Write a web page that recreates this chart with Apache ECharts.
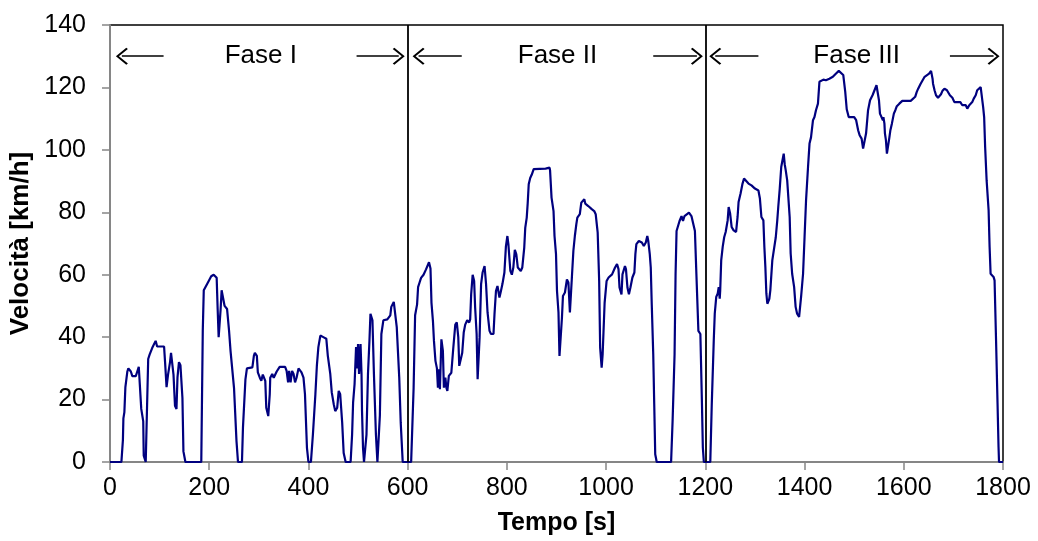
<!DOCTYPE html>
<html lang="it">
<head>
    <meta charset="UTF-8">
    <title>Velocità</title>
    <script src="https://cdn.jsdelivr.net/npm/echarts@6/dist/echarts.min.js"></script>
    <style>
        html, body { margin: 0; padding: 0; background: #fff; }
        #chart { width: 1038px; height: 541px; }
    </style>
</head>
<body>
<div id="chart"></div>
<script type="text/javascript">
    // dati: [tempo s, velocità km/h]
    var fase1 = [[0,0],[23,0],[26,7],[27,14],[29,16],[31,24],[35,29],[37,30],[42,29],[45,27.5],[52,27.5],[55,29],[58,30.5],[61,30],[63,17],[67,13],[68,2],[72,0],[75,0],[77,33],[80,34.5],[85,36.5],[92,38.8],[95,37],[102,37],[109,37],[111,32],[114,24],[117,28],[121,32],[123,35],[127,35],[128,28],[131,18],[134,17],[136,27],[139,32],[142,31],[146,20.5],[148,3.4],[152,0],[184,0],[187,42],[189,55],[193,55.5],[199,58],[204,59.5],[209,60],[215,59],[217,49],[219,40],[223,49],[225,55],[227,55.5],[231,50],[236,49],[240,42],[243,35.5],[250,23.7],[255,6.6],[258,0],[266,0],[268,11],[273,26.5],[276,30],[287,30.3],[290,34],[292,35],[296,34],[298,28.7],[302,27],[305,26],[308,28],[311,28],[313,26],[315,17.4],[319,14.7],[322,21.7],[323,27],[327,28.2],[330,27],[336,29],[342,30.5],[353,30.5],[356,29.2],[359,25.5],[361,29.2],[364,25.5],[367,29.2],[370,28.2],[373,25.5],[376,27],[380,30],[383,30.5],[386,28.7],[390,27],[393,21.7],[397,4.5],[400,0],[405,0],[409,8.8],[414,21.7],[417,30.9],[420,36.8],[424,40.5],[427,41],[430,40],[436,39.5],[439,34.1],[444,28.2],[447,22.3],[451,18.5],[454,16.3],[458,17.4],[461,22.8],[464,21.7],[468,12.6],[471,2.9],[475,0],[485,0],[488,8.8],[490,19],[493,25],[496,36.8],[498,30],[500,37.8],[502,28.2],[505,37.8],[507,28.2],[508,16.3],[510,4.5],[512,0],[515,0],[517,8.8],[520,28.2],[523,39],[525,47.5],[529,45.4],[532,28.2],[536,8.8],[539,0],[542,0],[544,15],[547,41],[551,45.4],[559,45.7],[565,47],[567,49.7],[572,51.3],[576,50.8],[578,43.2],[583,27.1],[586,12.6],[590,0],[607,0]];

    var fase2 = [[610,0],[612,23.8],[615,47],[619,50.5],[621,56],[624,57.5],[627,59],[632,60],[637,61.7],[643,64],[646,62],[648,51],[651,45],[653,38.8],[656,32.4],[659,30],[661,23.8],[663,29.7],[665,23.3],[668,39.3],[671,35.6],[673,23.8],[676,27],[678,23.8],[680,22.8],[683,27.6],[688,28.6],[691,29],[692,36.6],[696,44],[699,44.7],[702,40],[704,30.8],[708,30.5],[710,35],[713,41.5],[716,44],[720,45.4],[724,44.7],[726,45.7],[728,53.7],[731,60],[734,58],[736,49.5],[739,41],[741,26.5],[743,26.5],[745,40],[748,57],[751,60.7],[755,62.8],[757,62.8],[758,57],[761,47.9],[765,42],[768,41],[773,41],[775,47.3],[778,54.8],[781,56.4],[785,52.7],[788,54.8],[791,57],[795,60.7],[798,69],[801,72.4],[803,69.8],[807,61.2],[810,60],[813,62.3],[816,68],[819,66.5],[822,62.3],[825,62.3],[828,61.2],[831,62.3],[835,68.7],[837,75],[840,78.3],[842,83],[844,89],[847,91],[850,92],[854,93.8],[858,94],[878,94],[886,94.3],[887,93.5],[890,84.7],[894,80.4],[896,72.4],[899,66.6],[901,54.8],[904,47.9],[906,34],[909,34],[911,46.3],[913,53.2],[917,54.3],[921,58.5],[924,57.5],[927,47.9],[930,47.3],[931,59.1],[934,67.6],[937,72.4],[940,76.2],[942,78.3],[947,79.4],[950,83.1],[956,84.2],[958,82.8],[964,82],[971,81],[976,80.4],[979,79.4],[983,73.5],[986,58],[988,36.6],[991,30.2],[993,34.5],[997,51],[1001,58],[1005,59.1],[1008,59.6],[1012,60.1],[1018,62.3],[1022,63.4],[1025,61.8],[1027,55.9],[1031,53.7],[1033,60.1],[1038,62.8],[1040,61.8],[1043,55.9],[1046,53.7],[1049,55.9],[1053,59.1],[1057,60.7],[1059,66.6],[1061,69.8],[1066,70.8],[1072,70.3],[1076,69.2],[1080,70.3],[1083,72.4],[1085,70.8],[1088,66.6],[1090,62.3],[1092,50.5],[1095,34.5],[1097,18.5],[1099,2.5],[1102,0],[1131,0],[1134,13.1],[1138,34.5],[1140,60.1],[1142,74],[1145,74.6],[1148,77.2],[1152,78.8],[1155,77.2],[1158,78.8],[1162,79.4],[1167,79.9],[1172,78.8],[1175,78.3],[1179,74],[1182,60.1],[1186,42],[1190,41],[1193,20],[1195,4.6],[1197,0]];

    var fase3 = [[1210,0],[1213,18.7],[1217,39],[1219,47.5],[1222,52.9],[1225,54],[1227,56],[1229,52.3],[1230,55],[1232,64.6],[1235,68.9],[1238,72],[1241,73.7],[1245,77.4],[1247,81.7],[1250,79.6],[1253,75.3],[1257,74.2],[1262,73.7],[1265,78.5],[1267,83.3],[1271,86],[1275,89.2],[1278,90.8],[1282,90.2],[1287,89.2],[1293,88.6],[1300,87.6],[1307,87],[1310,84.4],[1313,78.5],[1317,77.4],[1319,68.9],[1321,62.5],[1323,54],[1325,50.7],[1329,52.3],[1331,55],[1335,64.6],[1338,67.8],[1342,72],[1345,77.4],[1347,81.7],[1350,87.6],[1353,94.5],[1355,94.5],[1358,98.8],[1360,95.4],[1362,93.5],[1365,90.2],[1367,90.2],[1370,78.5],[1372,66.8],[1375,60.3],[1379,56],[1382,49.7],[1385,47.5],[1389,46.5],[1391,46.5],[1393,52.9],[1397,60.3],[1400,72],[1403,83.8],[1407,94.5],[1410,102],[1413,104],[1417,109.5],[1420,110.5],[1423,112.7],[1427,114.8],[1430,121.8],[1433,122.3],[1438,122.5],[1443,122.3],[1450,122.8],[1457,123.4],[1463,124.4],[1469,125.3],[1473,125],[1478,124],[1482,118.6],[1485,113],[1489,110.5],[1493,110.3],[1500,110.5],[1504,109.5],[1508,106.3],[1511,104.7],[1515,103.6],[1518,100.4],[1521,99.9],[1524,105.3],[1528,112.7],[1532,115.9],[1537,117.5],[1541,119.1],[1545,120.7],[1547,120.2],[1550,115.9],[1552,111.6],[1553,111],[1556,111],[1558,109.5],[1559,110.5],[1561,108.4],[1562,105.3],[1564,103.1],[1566,98.8],[1568,99.3],[1571,104],[1573,106.3],[1576,108.4],[1580,111.6],[1583,112.7],[1586,114],[1591,114.8],[1597,115.7],[1614,115.7],[1618,115.9],[1623,117],[1626,118.5],[1629,119.6],[1634,121.2],[1638,122.3],[1642,123.4],[1646,123.9],[1651,124.4],[1655,125.3],[1658,122.8],[1659,121.2],[1662,119.1],[1665,117.5],[1669,116.7],[1672,116.4],[1675,117.8],[1678,118.9],[1682,119.6],[1687,119.1],[1690,118.5],[1693,117.5],[1698,116.7],[1702,115.3],[1707,115.3],[1711,115],[1714,115.3],[1718,114.3],[1721,113.7],[1725,114.3],[1728,113.2],[1732,114.3],[1734,114.8],[1738,115.3],[1741,116.4],[1745,117.5],[1748,119.1],[1752,119.6],[1755,120.1],[1758,119.6],[1760,113.7],[1762,110.5],[1764,100.9],[1767,90.2],[1771,80.6],[1773,68.9],[1775,60.3],[1781,59.3],[1783,58.2],[1786,39],[1789,18.7],[1791,4.8],[1792,0],[1800,0]];

    // limiti delle fasi e etichette
    var limitiFasi = [600, 1200];
    var nomiFasi = ['Fase I', 'Fase II', 'Fase III'];
    var centriFasi = [304, 902, 1505];
    var frecceSx = [[24, 108], [622, 709], [1220, 1307]];
    var frecceDx = [[497, 582], [1095, 1183], [1693, 1781]];
    var yFrecce = 130;

    var font = 'Liberation Sans, Arial, sans-serif';
    var grigio = '#868686';
    var punta = 'path://M0,0 L10,9 L8.6,10.4 L0,2.6 L-8.6,10.4 L-10,9 Z';

    var frecce = [];
    for (var i = 0; i < 3; i++) {
        frecce.push([{coord: [frecceSx[i][1], yFrecce], symbol: 'none'}, {coord: [frecceSx[i][0], yFrecce], symbol: punta}]);
        frecce.push([{coord: [frecceDx[i][0], yFrecce], symbol: 'none'}, {coord: [frecceDx[i][1], yFrecce], symbol: punta}]);
    }
    var etichette = [];
    for (var j = 0; j < 3; j++) {
        etichette.push([centriFasi[j], yFrecce, nomiFasi[j]]);
    }

    var myChart = echarts.init(document.getElementById('chart'));
    var option = {
        animation: false,
        textStyle: {fontFamily: font},
        grid: {
            left: 110, right: 35, top: 25, bottom: 79,
            outerBoundsMode: 'none', containLabel: false,
            show: true, borderColor: '#000', borderWidth: 1.5, backgroundColor: 'transparent'
        },
        xAxis: {
            type: 'value', min: 0, max: 1800, interval: 200,
            name: 'Tempo [s]', nameLocation: 'middle', nameGap: 49,
            nameTextStyle: {fontSize: 25, fontWeight: 'bold', color: '#000', fontFamily: font},
            axisLine: {lineStyle: {color: grigio, width: 2}},
            axisTick: {inside: false, length: 8, lineStyle: {color: grigio, width: 1.5}},
            axisLabel: {
                fontSize: 25, color: '#000', margin: 14, fontFamily: font,
                formatter: function (v) { return String(v); }
            },
            splitLine: {show: false}
        },
        yAxis: {
            type: 'value', min: 0, max: 140, interval: 20,
            name: 'Velocità [km/h]', nameLocation: 'middle', nameGap: 74,
            nameTextStyle: {fontSize: 26, fontWeight: 'bold', color: '#000', fontFamily: font},
            axisLine: {show: true, lineStyle: {color: grigio, width: 2}},
            axisTick: {show: true, inside: false, length: 8, lineStyle: {color: grigio, width: 1.5}},
            axisLabel: {fontSize: 25, color: '#000', margin: 24, fontFamily: font},
            splitLine: {show: false}
        },
        series: [
            {
                name: 'velocità',
                type: 'line',
                data: fase1.concat(fase2, fase3),
                showSymbol: false,
                lineStyle: {color: '#00007f', width: 2.2},
                z: 3,
                markLine: {
                    silent: true,
                    symbol: 'none',
                    label: {show: false},
                    lineStyle: {color: '#000', width: 1.8, type: 'solid'},
                    data: limitiFasi.map(function (x) { return {xAxis: x}; })
                }
            },
            {
                name: 'fasi',
                type: 'scatter',
                data: etichette,
                symbolSize: 0,
                silent: true,
                itemStyle: {opacity: 1},
                label: {
                    show: true, position: 'inside',
                    formatter: function (p) { return p.value[2]; },
                    fontSize: 26, color: '#000', fontFamily: font,
                    textBorderWidth: 0, textBorderColor: 'transparent'
                },
                markLine: {
                    silent: true,
                    symbolSize: [17, 12],
                    label: {show: false},
                    lineStyle: {color: '#000', width: 1.5, type: 'solid'},
                    data: frecce
                }
            }
        ]
    };
    myChart.setOption(option);
</script>
</body>
</html>
